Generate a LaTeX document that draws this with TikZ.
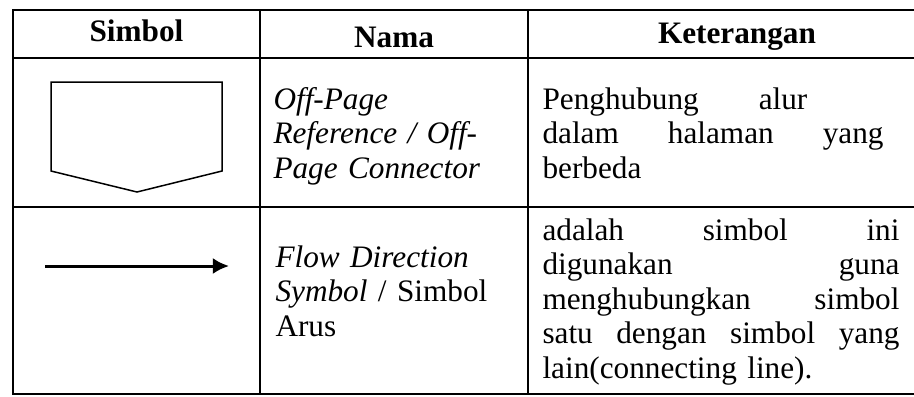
\documentclass[tikz,border=0pt]{standalone}
\usepackage{fontspec}
\setmainfont{Liberation Serif}[
  BoldFont=Liberation Serif Bold,
  ItalicFont=Liberation Serif Italic]
\usetikzlibrary{arrows.meta}

\tikzset{
  rule/.style={line width=0.85pt, line cap=rect},
  headtext/.style={font=\bfseries\fontsize{12.5}{13.8}\selectfont, inner sep=0pt, anchor=base},
  celltext/.style={font=\fontsize{12.5}{13.8}\selectfont, inner sep=0pt, anchor=base west, align=left},
}

\begin{document}
\begin{tikzpicture}[x=0.4pt, y=-0.4pt]
  \useasboundingbox (0,0) rectangle (914,396);

  % Table rules
  \draw[rule] (13,10) -- (914,10);
  \draw[rule] (13,58) -- (914,58);
  \draw[rule] (13,207) -- (914,207);
  \draw[rule] (13,394) -- (914,394);
  \draw[rule] (13,10) -- (13,394);
  \draw[rule] (260,10) -- (260,394);
  \draw[rule] (528,10) -- (528,394);

  % Header
  \node[headtext] (simbol) at (136.5,41) {Simbol};
  \node[headtext] (nama)   at (394,47)   {Nama};
  \node[headtext] (ket)    at (737,43)   {Keterangan};

  % Off-page connector
  \draw[line width=0.6pt] (51,82) -- (222,82) -- (222,171) -- (137,192) -- (51,171) -- cycle;

  \node[celltext, text width=96pt] (offname) at (273,109)
    {\itshape Off-Page\\ Reference / Off-\\ Page Connector};
  \node[celltext, text width=136.4pt] (offket) at (542,109)
    {Penghubung\hspace{24pt}alur\\ dalam\hfill halaman\hfill yang\\ berbeda};

  % Flow direction
  \coordinate (arrowtail) at (45,266);
  \coordinate (arrowtip)  at (229,266);
  \draw[line width=1.2pt, -{Latex[length=6.5pt,width=6.5pt]}] (arrowtail) -- (arrowtip);

  \node[celltext, text width=96pt] (flowname) at (275,267)
    {\textit{Flow Direction}\\ \textit{Symbol} / Simbol\\ Arus};
  \node[celltext, text width=142.8pt] (flowket) at (542,240)
    {adalah\hfill simbol\hfill ini\\ digunakan\hfill guna\\ menghubungkan\hfill simbol\\
     satu\hfill dengan\hfill simbol\hfill yang\\ lain(connecting line).};
\end{tikzpicture}
\end{document}
